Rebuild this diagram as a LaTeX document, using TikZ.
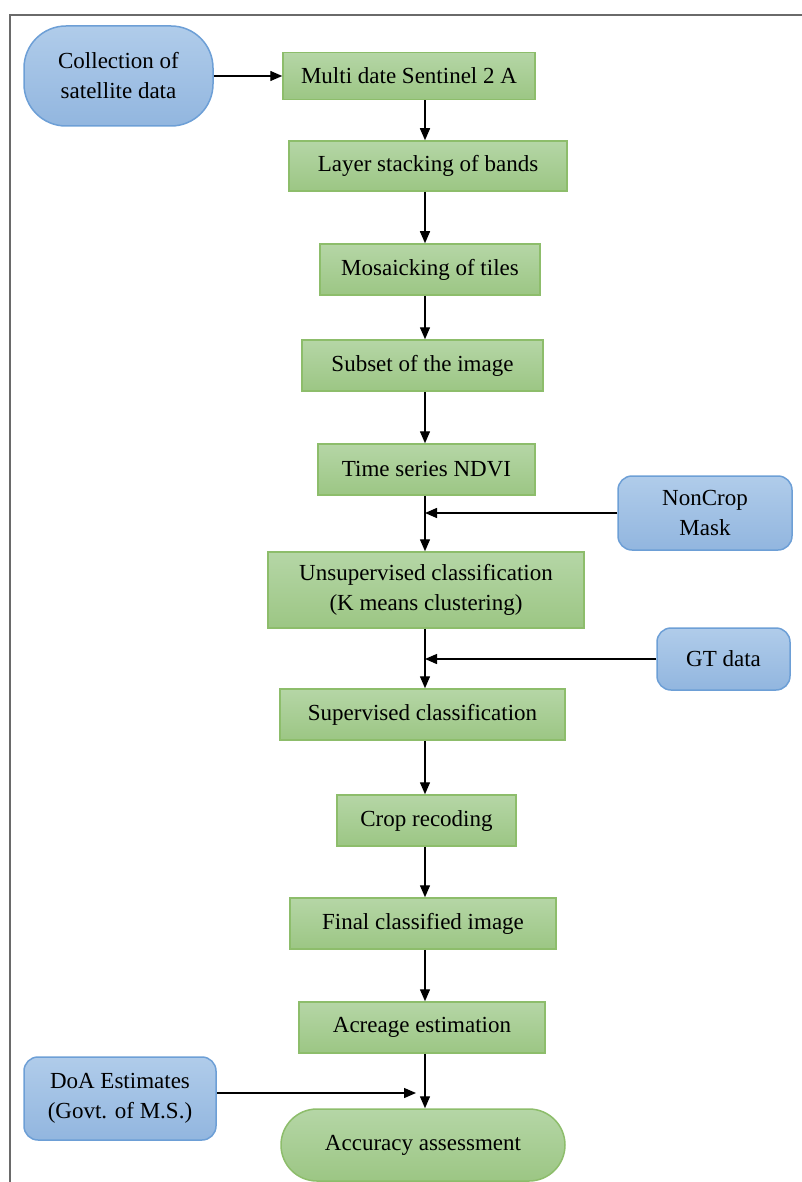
\documentclass[tikz,border=0pt]{standalone}
\usepackage{fontspec}
\setmainfont{Liberation Serif}
\usepackage{xcolor}
\usepackage{tikz}
\usetikzlibrary{calc}
\usetikzlibrary{arrows.meta}
\usetikzlibrary{shapes}
\usetikzlibrary{positioning}
\tikzset{>=latex}
\definecolor{grntop}{HTML}{B5D6A6}
\definecolor{grnbot}{HTML}{9CC684}
\definecolor{grnline}{HTML}{8DBD6B}
\definecolor{blutop}{HTML}{B0CCEA}
\definecolor{blubot}{HTML}{92B6DF}
\definecolor{bluline}{HTML}{6D9FD6}
\definecolor{framegray}{HTML}{6A6A6A}
\tikzstyle{proc} = [rectangle, draw=grnline, line width=1.5pt, top color=grntop, bottom color=grnbot, align=center, inner sep=2pt, font=\fontsize{23}{30}\selectfont]
\tikzstyle{src} = [rectangle, rounded corners=14pt, draw=bluline, line width=1.5pt, top color=blutop, bottom color=blubot, align=center, inner sep=2pt, font=\fontsize{23}{30}\selectfont]
\tikzstyle{flow} = [-{Triangle[length=12pt, width=10pt]}, draw=black, line width=1.4pt]

\begin{document}
\begin{tikzpicture}[x=1pt, y=-1pt]
\useasboundingbox (0, 0) rectangle (802, 1182);
\draw [framegray, line width=2pt] (802, 15) -- (10, 15) -- (10, 1182);
\coordinate (spine) at (425, 0);
\node [src, rounded corners=42pt, minimum width=189pt, minimum height=100pt] (coll) at (118.5, 76) {Collection of\\satellite data};
\node [proc, minimum width=252pt, minimum height=47pt] (multi) at (409, 76) {Multi date Sentinel 2 A};
\node [proc, minimum width=278pt, minimum height=50pt] (layer) at (428, 166) {Layer stacking of bands};
\node [proc, minimum width=220pt, minimum height=51pt] (mosaic) at (430, 269.5) {Mosaicking of tiles};
\node [proc, minimum width=241pt, minimum height=51pt] (subset) at (422.5, 365.5) {Subset of the image};
\node [proc, minimum width=217pt, minimum height=51pt] (ndvi) at (426.5, 469.5) {Time series NDVI};
\node [src, minimum width=174pt, minimum height=74pt] (noncrop) at (705, 513) {NonCrop\\Mask};
\node [proc, minimum width=316pt, minimum height=76pt] (unsup) at (426, 590) {Unsupervised classification\\(K means clustering)};
\node [src, minimum width=133pt, minimum height=62pt] (gt) at (723.5, 659) {GT data};
\node [proc, minimum width=285pt, minimum height=51pt] (sup) at (422.5, 714.5) {Supervised classification};
\node [proc, minimum width=179pt, minimum height=51pt] (recode) at (426.5, 820.5) {Crop recoding};
\node [proc, minimum width=266pt, minimum height=51pt] (final) at (423, 923.5) {Final classified image};
\node [proc, minimum width=246pt, minimum height=51pt] (acreage) at (422, 1027.5) {Acreage estimation};
\node [src, minimum width=192pt, minimum height=83pt] (doa) at (120, 1098.5) {DoA Estimates\\(Govt. of M.S.)};
\node [proc, rounded corners=36pt, minimum width=284pt, minimum height=72pt] (acc) at (423, 1145) {Accuracy assessment};
\coordinate (doaend) at (416, 1093);
\draw [flow] (coll.east) to (multi.west);
\draw [flow] (spine |- multi.south) to (spine |- layer.north);
\draw [flow] (spine |- layer.south) to (spine |- mosaic.north);
\draw [flow] (spine |- mosaic.south) to (spine |- subset.north);
\draw [flow] (spine |- subset.south) to (spine |- ndvi.north);
\draw [flow] (spine |- ndvi.south) to (spine |- unsup.north);
\draw [flow] (noncrop.west) to (spine |- noncrop.west);
\draw [flow] (spine |- unsup.south) to (spine |- sup.north);
\draw [flow] (gt.west) to (spine |- gt.west);
\draw [flow] (spine |- sup.south) to (spine |- recode.north);
\draw [flow] (spine |- recode.south) to (spine |- final.north);
\draw [flow] (spine |- final.south) to (spine |- acreage.north);
\draw [flow] (spine |- acreage.south) to (spine |- acc.north);
\draw [flow] (doa.east |- doaend) to (doaend);
\end{tikzpicture}
\end{document}
